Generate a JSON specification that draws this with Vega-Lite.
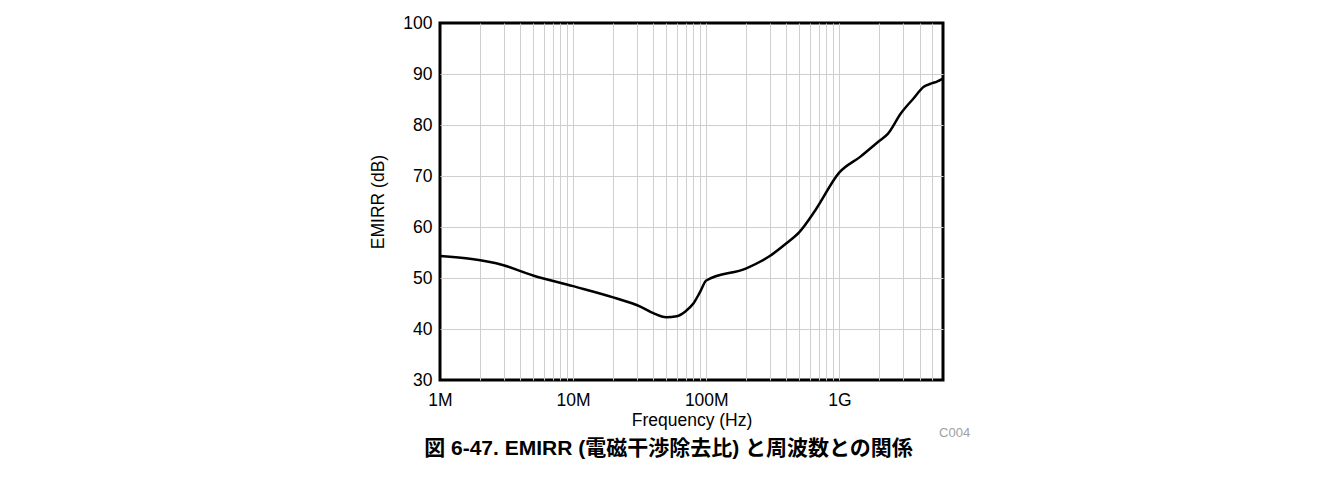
{
  "$schema": "https://vega.github.io/schema/vega-lite/v6.json",
  "autosize": "none",
  "width": 503,
  "height": 357,
  "padding": {"left": 440, "top": 23, "right": 394, "bottom": 99},
  "background": "white",
  "config": {
    "view": {"stroke": "black", "strokeWidth": 3},
    "font": "Liberation Sans",
    "axis": {
      "labelFont": "Liberation Sans",
      "titleFont": "Liberation Sans",
      "labelFontSize": 17.5,
      "titleFontSize": 17.5,
      "titleFontWeight": "normal",
      "labelColor": "black",
      "titleColor": "black",
      "ticks": false,
      "domain": false,
      "gridColor": "#cfcfcf",
      "gridWidth": 1
    }
  },
  "title": {
    "text": "図 6-47. EMIRR (電磁干渉除去比) と周波数との関係",
    "orient": "bottom",
    "anchor": "middle",
    "font": "Liberation Sans, Noto Sans CJK JP",
    "fontSize": 21,
    "fontWeight": "bold",
    "color": "black",
    "offset": -2,
    "dx": -23
  },
  "layer": [
    {
      "data": {
        "values": [
          {"freq": 1000000, "emirr": 54.3},
          {"freq": 3000000, "emirr": 52.5},
          {"freq": 5000000, "emirr": 50.5},
          {"freq": 10000000, "emirr": 48.4},
          {"freq": 20000000, "emirr": 46.2},
          {"freq": 32000000, "emirr": 44.4},
          {"freq": 40000000, "emirr": 43.1},
          {"freq": 50000000, "emirr": 42.3},
          {"freq": 60000000, "emirr": 42.5},
          {"freq": 70000000, "emirr": 43.5},
          {"freq": 80000000, "emirr": 45.0},
          {"freq": 90000000, "emirr": 47.3},
          {"freq": 100000000, "emirr": 49.5},
          {"freq": 200000000, "emirr": 51.9},
          {"freq": 300000000, "emirr": 54.3},
          {"freq": 400000000, "emirr": 56.8},
          {"freq": 500000000, "emirr": 59.0},
          {"freq": 660000000, "emirr": 63.3},
          {"freq": 1000000000, "emirr": 70.7},
          {"freq": 1440000000, "emirr": 73.8},
          {"freq": 2000000000, "emirr": 76.9},
          {"freq": 2300000000, "emirr": 78.2},
          {"freq": 2900000000, "emirr": 82.3},
          {"freq": 3600000000, "emirr": 85.2},
          {"freq": 4300000000, "emirr": 87.5},
          {"freq": 5000000000, "emirr": 88.2},
          {"freq": 5400000000, "emirr": 88.5},
          {"freq": 6000000000, "emirr": 89.1}
        ]
      },
      "mark": {"type": "line", "color": "black", "strokeWidth": 2.5, "interpolate": "monotone", "clip": true},
      "encoding": {
        "x": {
          "field": "freq",
          "type": "quantitative",
          "scale": {"type": "log", "domain": [1000000, 6000000000], "nice": false},
          "axis": {
            "title": "Frequency (Hz)",
            "values": [1000000, 2000000, 3000000, 4000000, 5000000, 6000000, 7000000, 8000000, 9000000,
                       10000000, 20000000, 30000000, 40000000, 50000000, 60000000, 70000000, 80000000, 90000000,
                       100000000, 200000000, 300000000, 400000000, 500000000, 600000000, 700000000, 800000000, 900000000,
                       1000000000, 2000000000, 3000000000, 4000000000, 5000000000],
            "labelExpr": "datum.value == 1000000 ? '1M' : datum.value == 10000000 ? '10M' : datum.value == 100000000 ? '100M' : datum.value == 1000000000 ? '1G' : ''",
            "labelPadding": 11,
            "titlePadding": 3,
            "labelFlush": false,
            "labelOverlap": false,
            "gridOpacity": {"condition": {"test": "datum.value == 1000000", "value": 0}, "value": 1}
          }
        },
        "y": {
          "field": "emirr",
          "type": "quantitative",
          "scale": {"domain": [30, 100], "nice": false, "zero": false},
          "axis": {
            "title": "EMIRR (dB)",
            "values": [30, 40, 50, 60, 70, 80, 90, 100],
            "labelPadding": 8,
            "titlePadding": 15,
            "labelFlush": false,
            "gridOpacity": {"condition": {"test": "datum.value == 30 || datum.value == 100", "value": 0}, "value": 1}
          }
        }
      }
    },
    {
      "data": {"values": [{"code": "C004"}]},
      "mark": {"type": "text", "align": "right", "baseline": "middle", "fontSize": 13, "color": "#a0a0a0", "font": "Liberation Sans"},
      "encoding": {
        "x": {"datum": 9600000000, "type": "quantitative"},
        "y": {"datum": 19.6, "type": "quantitative"},
        "text": {"field": "code", "type": "nominal"}
      }
    }
  ]
}
